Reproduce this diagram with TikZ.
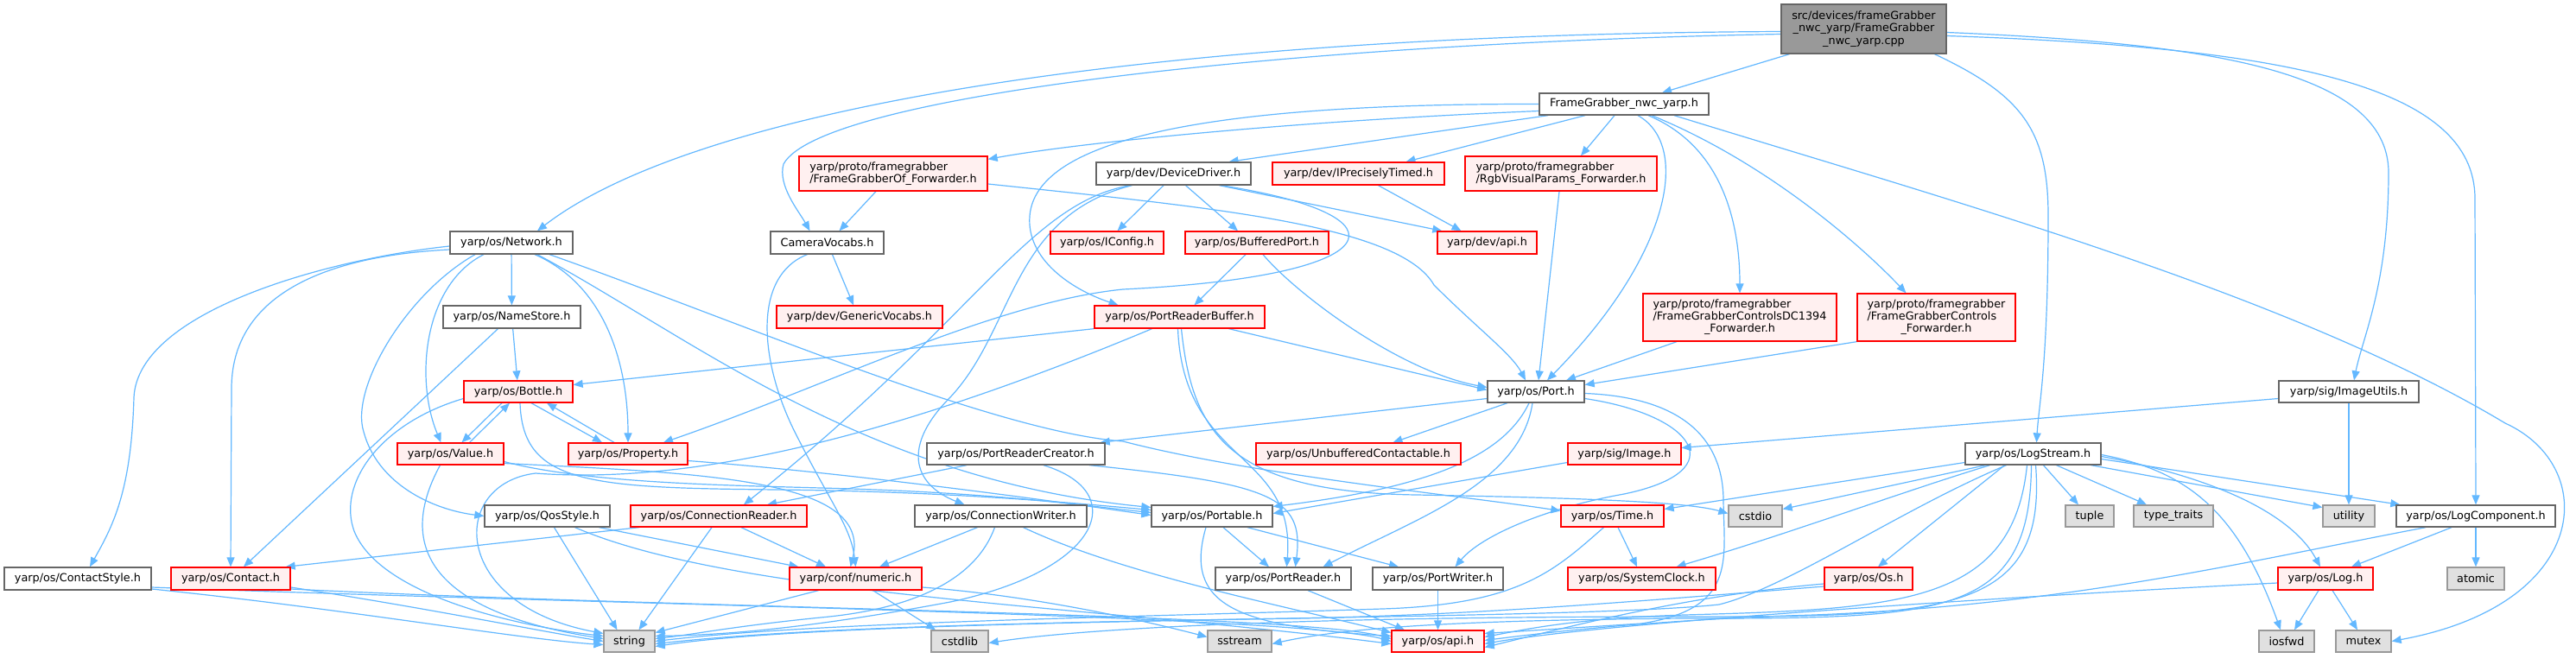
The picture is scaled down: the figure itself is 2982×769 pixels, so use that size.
\documentclass[tikz,border=0pt]{standalone}
\usepackage{fontspec}
\setmainfont{DejaVu Sans}
\usetikzlibrary{arrows.meta}
\pgfdeclarelayer{bg}
\pgfdeclarelayer{edges}
\pgfsetlayers{bg,edges,main}
\definecolor{edgeblue}{HTML}{63B8FF}
\definecolor{bordergray}{HTML}{666666}
\definecolor{redfill}{HTML}{FFF0F0}
\definecolor{extfill}{HTML}{E0E0E0}
\definecolor{extline}{HTML}{999999}
\definecolor{rootfill}{HTML}{999999}
\newcommand\mkbox[7][nbox]{\node[#1,minimum width={#4-#3},minimum height={#6-#5}] (#2) at ({(#3+#4)/2},{(#5+#6)/2}) {#7};}
\begin{document}
\begin{tikzpicture}[x=1pt,y=-1pt,
  basebox/.style={draw,line width=1.3pt,inner sep=0pt,font=\fontsize{12.8}{14.3}\selectfont,text=black},
  nbox/.style={basebox,draw=bordergray,fill=white},
  rbox/.style={basebox,draw=red,fill=redfill},
  gbox/.style={basebox,draw=extline,fill=extfill},
  rootbox/.style={basebox,draw=bordergray,fill=rootfill,align=center},
  dep/.style={draw=edgeblue,line width=1.2pt,-{Triangle[length=11pt,width=9pt]}}]
\begin{pgfonlayer}{bg}
\fill[white] (0,0) rectangle (2982,769);
\end{pgfonlayer}
\useasboundingbox (0,0) rectangle (2982,769);

% ---------- nodes ----------
\mkbox[rootbox]{root}{2062}{2253}{5}{62}{src/devices/frameGrabber\\\_nwc\_yarp/FrameGrabber\\\_nwc\_yarp.cpp}
\mkbox{FGnwc}{1782}{1978}{108}{133}{FrameGrabber\_nwc\_yarp.h}
\mkbox[rbox,align=left]{FGOf}{925}{1143}{181}{221}{yarp/proto/framegrabber\\/FrameGrabberOf\_Forwarder.h}
\mkbox{DevDrv}{1269}{1448}{188}{214}{yarp/dev/DeviceDriver.h}
\mkbox[rbox]{IPT}{1473}{1672}{188}{214}{yarp/dev/IPreciselyTimed.h}
\mkbox[rbox,align=left]{RgbVP}{1696}{1918}{181}{221}{yarp/proto/framegrabber\\/RgbVisualParams\_Forwarder.h}
\mkbox{Network}{521}{663}{268}{294}{yarp/os/Network.h}
\mkbox{CamVoc}{892}{1023}{268}{294}{CameraVocabs.h}
\mkbox[rbox]{IConfig}{1216}{1347}{268}{294}{yarp/os/IConfig.h}
\mkbox[rbox]{BufPort}{1372}{1538}{268}{294}{yarp/os/BufferedPort.h}
\mkbox[rbox]{DevApi}{1664}{1779}{268}{294}{yarp/dev/api.h}
\mkbox{NameStore}{513}{672}{354}{380}{yarp/os/NameStore.h}
\mkbox[rbox]{GenVoc}{899}{1091}{354}{380}{yarp/dev/GenericVocabs.h}
\mkbox[rbox]{PRB}{1267}{1464}{354}{380}{yarp/os/PortReaderBuffer.h}
\mkbox[rbox]{FGDC}{1902}{2126}{340}{395}{\begin{tabular}{@{}l@{}}yarp/proto/framegrabber\\/FrameGrabberControlsDC1394\\\multicolumn{1}{@{}c@{}}{\_Forwarder.h}\end{tabular}}
\mkbox[rbox]{FGCtrl}{2150}{2333}{340}{395}{\begin{tabular}{@{}l@{}}yarp/proto/framegrabber\\/FrameGrabberControls\\\multicolumn{1}{@{}c@{}}{\_Forwarder.h}\end{tabular}}
\mkbox[rbox]{Bottle}{537}{663}{441}{466}{yarp/os/Bottle.h}
\mkbox{Port}{1722}{1834}{441}{466}{yarp/os/Port.h}
\mkbox{ImgUtils}{2638}{2800}{441}{466}{yarp/sig/ImageUtils.h}
\mkbox[rbox]{Value}{460}{583}{513}{538}{yarp/os/Value.h}
\mkbox[rbox]{Property}{658}{796}{513}{538}{yarp/os/Property.h}
\mkbox{PRC}{1073}{1279}{513}{538}{yarp/os/PortReaderCreator.h}
\mkbox[rbox]{Unbuf}{1454}{1691}{513}{538}{yarp/os/UnbufferedContactable.h}
\mkbox[rbox]{Image}{1815}{1946}{513}{538}{yarp/sig/Image.h}
\mkbox{LogStream}{2275}{2432}{513}{538}{yarp/os/LogStream.h}
\mkbox{QosStyle}{561}{706}{585}{610}{yarp/os/QosStyle.h}
\mkbox[rbox]{ConnReader}{730}{934}{585}{610}{yarp/os/ConnectionReader.h}
\mkbox{ConnWriter}{1059}{1258}{585}{610}{yarp/os/ConnectionWriter.h}
\mkbox{Portable}{1333}{1473}{585}{610}{yarp/os/Portable.h}
\mkbox[rbox]{Time}{1807}{1926}{585}{610}{yarp/os/Time.h}
\mkbox[gbox]{cstdio}{2001}{2063}{585}{610}{cstdio}
\mkbox[gbox]{tuple}{2391}{2447}{585}{610}{tuple}
\mkbox[gbox]{typetraits}{2470}{2562}{585}{610}{type\_traits}
\mkbox[gbox]{utility}{2689}{2749}{585}{610}{utility}
\mkbox{LogComp}{2774}{2958}{585}{610}{yarp/os/LogComponent.h}
\mkbox{ContactStyle}{5}{175}{657}{683}{yarp/os/ContactStyle.h}
\mkbox[rbox]{Contact}{198}{336}{657}{683}{yarp/os/Contact.h}
\mkbox[rbox]{numeric}{914}{1067}{657}{683}{yarp/conf/numeric.h}
\mkbox{PortReader}{1407}{1564}{657}{683}{yarp/os/PortReader.h}
\mkbox{PortWriter}{1589}{1740}{657}{683}{yarp/os/PortWriter.h}
\mkbox[rbox]{SysClock}{1815}{1986}{657}{683}{yarp/os/SystemClock.h}
\mkbox[rbox]{Os}{2112}{2214}{657}{683}{yarp/os/Os.h}
\mkbox[rbox]{Log}{2637}{2747}{657}{683}{yarp/os/Log.h}
\mkbox[gbox]{atomic}{2833}{2899}{657}{683}{atomic}
\mkbox[gbox]{string}{699}{758}{730}{755}{string}
\mkbox[gbox]{cstdlib}{1078}{1144}{730}{755}{cstdlib}
\mkbox[gbox]{sstream}{1398}{1472}{730}{755}{sstream}
\mkbox[rbox]{osapi}{1611}{1718}{730}{755}{yarp/os/api.h}
\mkbox[gbox]{iosfwd}{2615}{2679}{730}{755}{iosfwd}
\mkbox[gbox]{mutex}{2704}{2768}{730}{755}{mutex}

% ---------- edges ----------
\begin{pgfonlayer}{edges}
% root
\draw[dep] ([xshift=-86pt]root.south) -- ([xshift=44pt]FGnwc.north);
\draw[dep] ([yshift=-3pt]root.west) .. controls (1300,40) and (800,130) .. ([xshift=30pt]Network.north);
\draw[dep] ([yshift=-6pt]root.west) .. controls (1500,50) and (950,110) .. (907,190) .. controls (900,215) and (925,245) .. ([xshift=-20pt]CamVoc.north);
\draw[dep] ([xshift=82pt]root.south) .. controls (2340,110) and (2371,150) .. (2371,250) .. controls (2371,420) and (2360,470) .. ([xshift=4pt]LogStream.north);
\draw[dep] ([yshift=-4pt]root.east) .. controls (2550,50) and (2765,80) .. (2765,200) .. controls (2765,330) and (2735,390) .. ([xshift=6pt]ImgUtils.north);
\draw[dep] ([yshift=-8pt]root.east) .. controls (2650,55) and (2865,100) .. (2865,230) -- (LogComp.north);
% FrameGrabber_nwc_yarp.h
\draw[dep] ([yshift=-8pt]FGnwc.west) .. controls (1500,140) and (1250,165) .. ([yshift=-4pt]FGOf.north east);
\draw[dep] ([xshift=-88pt]FGnwc.south) -- ([xshift=64pt]DevDrv.north);
\draw[dep] (FGnwc.west) .. controls (1450,120) and (1200,150) .. (1192,250) .. controls (1188,300) and (1240,335) .. ([xshift=-71pt]PRB.north);
\draw[dep] ([xshift=-45pt]FGnwc.south) -- ([xshift=55pt]IPT.north);
\draw[dep] ([xshift=-11pt]FGnwc.south) -- ([xshift=23pt]RgbVP.north);
\draw[dep] ([xshift=16pt]FGnwc.south) .. controls (1960,170) and (1930,300) .. ([xshift=13pt]Port.north);
\draw[dep] ([xshift=28pt]FGnwc.south) .. controls (1995,170) and (2014,260) .. (FGDC.north);
\draw[dep] ([xshift=32pt]FGnwc.south) .. controls (2050,190) and (2160,290) .. ([xshift=-35pt]FGCtrl.north);
\draw[dep] ([xshift=58pt]FGnwc.south) .. controls (2250,230) and (2650,340) .. (2900,490) .. controls (3010,540) and (3000,700) .. (mutex.east);
% FrameGrabberOf_Forwarder
\draw[dep] ([xshift=-20pt]FGOf.south) -- ([xshift=14pt]CamVoc.north);
\draw[dep] ([yshift=-12pt]FGOf.east) .. controls (1400,240) and (1620,260) .. (1660,330) .. controls (1710,380) and (1750,410) .. ([xshift=-12pt]Port.north);
% DeviceDriver
\draw[dep] ([xshift=-11.5pt]DevDrv.south) -- ([xshift=12pt]IConfig.north);
\draw[dep] ([xshift=14pt]DevDrv.south) -- ([xshift=-22pt]BufPort.north);
\draw[dep] ([xshift=53pt]DevDrv.south) -- ([xshift=6pt]DevApi.north west);
\draw[dep] ([xshift=55pt]DevDrv.south) .. controls (1640,250) and (1610,320) .. (1300,335) .. controls (1150,350) and (950,450) .. ([xshift=41pt]Property.north);
\draw[dep] ([xshift=-50pt]DevDrv.south) .. controls (1190,235) and (1130,370) .. ([xshift=29pt]ConnReader.north);
\draw[dep] ([xshift=-48pt]DevDrv.south) .. controls (1170,250) and (1175,380) .. (1100,460) .. controls (1045,515) and (1055,560) .. ([xshift=-42pt]ConnWriter.north);
% IPreciselyTimed, RgbVisualParams
\draw[dep] ([xshift=23pt]IPT.south) -- ([xshift=-30pt]DevApi.north);
\draw[dep] ([xshift=-2pt]RgbVP.south) -- ([xshift=3pt]Port.north);
% Network
\draw[dep] ([yshift=-4pt]Network.west) .. controls (380,300) and (160,360) .. (155,460) .. controls (152,570) and (130,610) .. ([xshift=14pt]ContactStyle.north);
\draw[dep] ([yshift=-8pt]Network.west) .. controls (400,295) and (268,330) .. (268,450) -- (Contact.north);
\draw[dep] ([xshift=-42pt]Network.south) .. controls (470,340) and (405,450) .. (421,500) .. controls (437,560) and (500,590) .. (QosStyle.west);
\draw[dep] ([xshift=-32pt]Network.south) .. controls (490,330) and (480,440) .. ([xshift=-11pt]Value.north);
\draw[dep] (Network) -- (NameStore);
\draw[dep] ([xshift=27pt]Network.south) .. controls (700,330) and (727,420) .. (Property.north);
\draw[dep] ([xshift=30pt]Network.south) .. controls (800,390) and (1000,555) .. ([yshift=10pt]Portable.west);
\draw[dep] ([xshift=44pt]Network.south) .. controls (850,370) and (1150,500) .. (1300,511) .. controls (1450,550) and (1700,575) .. ([yshift=6pt]Time.west);
% NameStore, CameraVocabs
\draw[dep] (NameStore) -- (Bottle);
\draw[dep] ([xshift=-16pt]NameStore.south) -- ([xshift=15pt]Contact.north);
\draw[dep] ([xshift=6pt]CamVoc.south) -- ([xshift=-7pt]GenVoc.north);
\draw[dep] ([xshift=-23pt]CamVoc.south) .. controls (870,320) and (880,420) .. (920,500) .. controls (960,580) and (985,610) .. (numeric.north);
% BufferedPort
\draw[dep] ([xshift=-13pt]BufPort.south) -- ([xshift=17pt]PRB.north);
\draw[dep] ([xshift=7pt]BufPort.south) .. controls (1500,340) and (1620,430) .. ([yshift=5pt]Port.west);
% PortReaderBuffer
\draw[dep] (PRB.south west) -- ([yshift=8pt]Bottle.east);
\draw[dep] ([xshift=57pt]PRB.south) -- ([yshift=2pt]Port.west);
\draw[dep] ([xshift=-2pt]PRB.south) .. controls (1370,540) and (1500,520) .. ([xshift=4pt]PortReader.north);
\draw[dep] ([xshift=2pt]PRB.south) .. controls (1380,500) and (1420,570) .. (1640,573) .. controls (1800,576) and (1950,580) .. ([yshift=3pt]cstdio.west);
\draw[dep] ([xshift=-32pt]PRB.south) .. controls (1000,520) and (780,560) .. (620,548) .. controls (520,560) and (520,700) .. ([yshift=9pt]string.west);
% PortReaderCreator
\draw[dep] ([yshift=-8pt]Port.west) -- ([xshift=-6pt]PRC.north east);
\draw[dep] ([xshift=-57pt]PRC.south) -- ([xshift=56pt]ConnReader.north);
\draw[dep] ([xshift=85pt]PRC.south) .. controls (1470,560) and (1510,575) .. ([xshift=14pt]PortReader.north);
\draw[dep] ([xshift=32pt]PRC.south) .. controls (1310,570) and (1275,660) .. (1100,697) .. controls (950,725) and (850,735) .. ([yshift=6pt]string.east);
% Port
\draw[dep] ([xshift=-33pt]Port.south) -- ([xshift=40pt]Unbuf.north);
\draw[dep] ([xshift=-8pt]Port.south) .. controls (1740,530) and (1650,565) .. ([yshift=11pt]Portable.east);
\draw[dep] ([xshift=-4pt]Port.south) .. controls (1760,560) and (1640,600) .. ([xshift=46pt]PortReader.north);
\draw[dep] ([yshift=-8pt]Port.east) .. controls (1960,480) and (2010,545) .. (1880,572) .. controls (1790,588) and (1715,620) .. ([xshift=20pt]PortWriter.north);
\draw[dep] ([yshift=-2pt]Port.east) .. controls (1950,460) and (1995,510) .. (1995,580) .. controls (1996,650) and (2010,705) .. (1900,722) -- ([yshift=9pt]osapi.east);
\draw[dep] ([xshift=-73pt]FGDC.south) -- ([xshift=35pt]Port.north);
\draw[dep] (FGCtrl.south west) -- ([yshift=8pt]Port.east);
% ImageUtils, Image
\draw[dep] ([yshift=-8pt]ImgUtils.west) -- ([yshift=7pt]Image.east);
\draw[dep] (ImgUtils) -- (utility);
\draw[dep] ([yshift=-10pt]Image.west) -- ([yshift=3pt]Portable.east);
% Bottle, Value, Property
\draw[dep] ([xshift=-19pt]Bottle.south) -- ([xshift=13pt]Value.north);
\draw[dep] ([xshift=22pt]Value.north) -- ([xshift=-10pt]Bottle.south);
\draw[dep] ([xshift=15pt]Bottle.south) -- ([xshift=-30pt]Property.north);
\draw[dep] ([xshift=-16pt]Property.north) -- ([xshift=33pt]Bottle.south);
\draw[dep] ([yshift=-8pt]Bottle.west) .. controls (440,490) and (390,560) .. (410,615) .. controls (440,690) and (600,725) .. ([yshift=6pt]string.west);
\draw[dep] ([xshift=2pt]Bottle.south) .. controls (605,560) and (680,565) .. (900,567) .. controls (1100,569) and (1250,583) .. ([yshift=7pt]Portable.west);
\draw[dep] ([xshift=-12pt]Value.south) .. controls (465,620) and (480,705) .. ([yshift=3pt]string.west);
\draw[dep] ([yshift=-9pt]Value.east) .. controls (680,560) and (850,562) .. (950,565) .. controls (1150,570) and (1250,585) .. ([yshift=4pt]Portable.west);
\draw[dep] ([yshift=-11pt]Value.east) .. controls (820,548) and (1010,555) .. ([xshift=-6pt]numeric.north);
\draw[dep] ([yshift=-8pt]Property.east) .. controls (950,545) and (1150,570) .. ([yshift=1pt]Portable.west);
% QosStyle, ConnectionReader, ConnectionWriter
\draw[dep] ([xshift=8pt]QosStyle.south) -- ([xshift=-14pt]string.north);
\draw[dep] ([xshift=60pt]QosStyle.south) -- ([xshift=-66pt]numeric.north);
\draw[dep] ([xshift=32pt]QosStyle.south) .. controls (850,690) and (1250,700) .. ([yshift=-3pt]osapi.west);
\draw[dep] ([xshift=-8pt]ConnReader.south) -- ([xshift=11pt]string.north);
\draw[dep] ([xshift=26pt]ConnReader.south) -- ([xshift=-34.5pt]numeric.north);
\draw[dep] ([xshift=-92pt]ConnReader.south) -- ([xshift=-6pt]Contact.north east);
\draw[dep] ([xshift=-27pt]ConnWriter.south) -- ([xshift=27.5pt]numeric.north);
\draw[dep] ([xshift=-7pt]ConnWriter.south) .. controls (1130,670) and (1060,705) .. (950,715) .. controls (850,725) and (800,735) .. ([yshift=3pt]string.east);
\draw[dep] ([xshift=26pt]ConnWriter.south) .. controls (1300,665) and (1480,700) .. ([yshift=10pt]osapi.west);
% Portable, PortReader, PortWriter
\draw[dep] ([xshift=13pt]Portable.south) -- ([xshift=-16.5pt]PortReader.north);
\draw[dep] ([xshift=41pt]Portable.south) -- ([xshift=-45.5pt]PortWriter.north);
\draw[dep] ([xshift=-7pt]Portable.south) .. controls (1370,700) and (1430,725) .. ([yshift=6pt]osapi.west);
\draw[dep] ([xshift=28.5pt]PortReader.south) -- ([xshift=-38.5pt]osapi.north);
\draw[dep] (PortWriter) -- (osapi);
% Time, Os
\draw[dep] ([xshift=6.5pt]Time.south) -- ([xshift=-5.5pt]SysClock.north);
\draw[dep] ([xshift=-10pt]Time.south) .. controls (1800,660) and (1760,700) .. (1600,705) .. controls (1300,715) and (950,720) .. ([yshift=0pt]string.east);
\draw[dep] ([yshift=-6pt]Os.west) .. controls (1950,690) and (1820,725) .. ([yshift=-7pt]osapi.east);
\draw[dep] ([yshift=-9pt]Os.west) .. controls (1850,700) and (1700,712) .. (1500,716) .. controls (1100,722) and (900,730) .. ([yshift=-3pt]string.east);
% numeric
\draw[dep] ([xshift=-43pt]numeric.south) -- ([yshift=10pt]string.east);
\draw[dep] ([xshift=20pt]numeric.south) -- ([xshift=-28pt]cstdlib.north);
\draw[dep] ([yshift=-10pt]numeric.east) .. controls (1200,690) and (1330,720) .. ([yshift=5pt]sstream.west);
% LogStream
\draw[dep] ([yshift=-10pt]LogStream.west) -- ([yshift=8pt]Time.east);
\draw[dep] ([xshift=-55pt]LogStream.south) -- ([yshift=8pt]cstdio.east);
\draw[dep] ([xshift=-50pt]LogStream.south) .. controls (2200,570) and (2080,615) .. ([xshift=40pt]SysClock.north);
\draw[dep] ([xshift=-33pt]LogStream.south) -- ([xshift=11pt]Os.north);
\draw[dep] ([xshift=12pt]LogStream.south) -- ([xshift=-13pt]tuple.north);
\draw[dep] ([xshift=27pt]LogStream.south) -- ([xshift=-31pt]typetraits.north);
\draw[dep] ([xshift=67pt]LogStream.south) -- ([yshift=10pt]utility.west);
\draw[dep] ([yshift=-6pt]LogStream.east) -- ([xshift=5pt]LogComp.north west);
\draw[dep] ([yshift=-3pt]LogStream.east) .. controls (2550,550) and (2650,590) .. ([xshift=-6pt]Log.north);
\draw[dep] ([yshift=-1pt]LogStream.east) .. controls (2530,545) and (2590,590) .. ([xshift=-7pt]iosfwd.north);
\draw[dep] ([xshift=-31pt]LogStream.south) .. controls (2200,590) and (2070,680) .. (1990,700) .. controls (1800,720) and (1000,712) .. ([yshift=-6pt]string.east);
\draw[dep] ([xshift=-7pt]LogStream.south) .. controls (2330,700) and (2200,705) .. (1950,712) .. controls (1820,716) and (1760,730) .. ([yshift=5pt]osapi.east);
\draw[dep] ([xshift=-2pt]LogStream.south) .. controls (2350,715) and (2250,716) .. (1950,716) .. controls (1700,718) and (1560,726) .. ([yshift=-3pt]sstream.east);
\draw[dep] ([xshift=3pt]LogStream.south) .. controls (2370,712) and (2250,714) .. (1950,714) .. controls (1500,714) and (1250,728) .. ([yshift=-2pt]cstdlib.east);
% LogComponent, Log
\draw[dep] ([xshift=-28pt]LogComp.south) -- ([xshift=30pt]Log.north);
\draw[dep] (LogComp) -- (atomic);
\draw[dep] ([xshift=-58pt]LogComp.south) .. controls (2600,650) and (2400,700) .. (2100,712) .. controls (1900,718) and (1770,735) .. ([yshift=1pt]osapi.east);
\draw[dep] ([xshift=-8pt]Log.south) -- ([xshift=9pt]iosfwd.north);
\draw[dep] ([xshift=8pt]Log.south) -- ([xshift=-7pt]mutex.north);
\draw[dep] ([yshift=-5pt]Log.west) .. controls (2300,692) and (1850,722) .. ([yshift=-3pt]osapi.east);
% Contact, ContactStyle
\draw[dep] ([yshift=-10pt]Contact.east) .. controls (500,705) and (620,730) .. (string.west);
\draw[dep] ([yshift=-12pt]Contact.east) .. controls (800,705) and (1500,710) .. ([yshift=3pt]osapi.west);
\draw[dep] ([yshift=-12pt]ContactStyle.east) .. controls (400,705) and (600,740) .. ([yshift=-4pt]string.west);
\draw[dep] ([yshift=-10pt]ContactStyle.east) .. controls (700,700) and (1500,712) .. (osapi.west);
\end{pgfonlayer}
\end{tikzpicture}
\end{document}
